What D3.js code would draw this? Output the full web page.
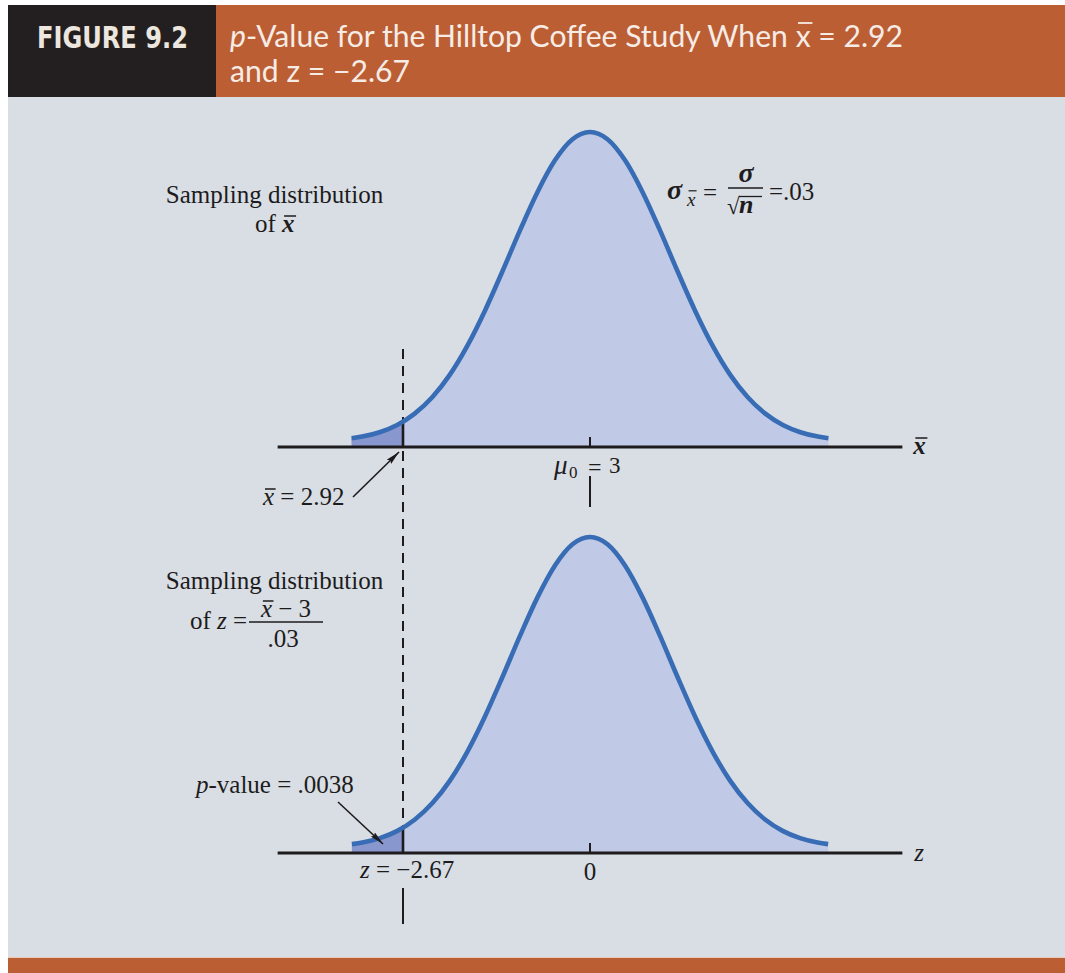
<!DOCTYPE html>
<html>
<head>
<meta charset="utf-8">
<script src="https://cdn.jsdelivr.net/npm/d3@7"></script>
<style>
  body { margin: 0; background: #ffffff; }
  text { white-space: pre; }
</style>
</head>
<body>
<svg id="fig" width="1065" height="973"></svg>
<script>
// ---- study values ----
const popMean = 3;          // hypothesized mean, mu0
const stdError = 0.03;      // sigma / sqrt(n)
const sampleMean = 2.92;    // observed x-bar
const zStat = -2.67;        // test statistic
const pValueText = ".0038";

// ---- bell outline: standardized positions and relative heights ----
const bellZ = [-3.4, -3.25, -3, -2.75, -2.5, -2.25, -2, -1.75, -1.5, -1.25, -1, -0.75, -0.5, -0.25,
               0, 0.25, 0.5, 0.75, 1, 1.25, 1.5, 1.75, 2, 2.25, 2.5, 2.75, 3, 3.25, 3.4];
const bellH = [0.028, 0.033, 0.047, 0.070, 0.106, 0.158, 0.229, 0.321, 0.432, 0.557, 0.687, 0.809, 0.910, 0.977,
               1.000, 0.977, 0.910, 0.809, 0.687, 0.557, 0.432, 0.321, 0.229, 0.158, 0.106, 0.070, 0.047, 0.033, 0.028];

// ---- axis extent in z units, tick labels ----
const axisZ = [-4.46, 4.46];
const topTickLabel = "3";
const bottomTickLabel = "0";

// ---- header text ----
const figureTag = "FIGURE 9.2";

const C = {
  panel: "#d8dee4",
  orange: "#bb5e34",
  dark: "#231f20",
  fill: "#c0c9e5",
  tail: "#8897cd",
  curve: "#386cb4",
  ink: "#1e1b1c",
  head: "#f6ece5"
};
const SERIF = "'Liberation Serif', 'Times New Roman', serif";
const SANS = "Lato, 'Open Sans', 'DejaVu Sans', sans-serif";
const SANS_BOLD = "'DejaVu Sans Condensed', 'Liberation Sans', sans-serif";

const svg = d3.select("#fig");

// scales: z axis and x-bar axis share the same horizontal placement
const zScale = d3.scaleLinear().domain([0, zStat]).range([590, 403]);
const xbarScale = d3.scaleLinear().domain([popMean, sampleMean]).range([590, 403]);
const yTop = d3.scaleLinear().domain([0, 1]).range([447, 132]);
const yBot = d3.scaleLinear().domain([0, 1]).range([853, 537]);

const bell = bellZ.map((z, i) => ({ z, h: bellH[i] }));

// ---- frame ----
svg.append("rect").attr("x", 8).attr("y", 97).attr("width", 1057).attr("height", 861).attr("fill", C.panel);
svg.append("rect").attr("x", 8).attr("y", 5).attr("width", 208).attr("height", 92).attr("fill", C.dark);
svg.append("rect").attr("x", 216).attr("y", 5).attr("width", 849).attr("height", 92).attr("fill", C.orange);
svg.append("rect").attr("x", 8).attr("y", 958).attr("width", 1057).attr("height", 15).attr("fill", C.orange);
svg.append("line").attr("x1", 8).attr("x2", 1065).attr("y1", 957.5).attr("y2", 957.5)
  .attr("stroke", "#e9c9b8").attr("stroke-width", 1);

// ---- rich text helper: sequential pieces, optional overline ----
function rich(parent, x, y, parts, opts) {
  const g = parent.append("g");
  let cx = 0;
  parts.forEach(p => {
    const size = p.size || opts.size;
    const t = g.append("text")
      .attr("xml:space", "preserve")
      .attr("x", cx + (p.dx || 0))
      .attr("y", p.dy || 0)
      .attr("font-family", p.family || opts.family)
      .attr("font-size", size)
      .attr("font-style", p.italic ? "italic" : "normal")
      .attr("font-weight", p.bold ? "bold" : (opts.weight || "normal"))
      .attr("fill", opts.fill || C.ink)
      .text(p.t);
    const w = t.node().getComputedTextLength();
    if (p.over) {
      const oy = (p.dy || 0) - size * (p.overAt || 0.66);
      g.append("line")
        .attr("x1", cx + (p.dx || 0) + size * 0.08).attr("x2", cx + (p.dx || 0) + w + size * 0.06)
        .attr("y1", oy).attr("y2", oy)
        .attr("stroke", opts.fill || C.ink).attr("stroke-width", Math.max(1.2, size * 0.06));
    }
    cx += w + (p.dx || 0) + (p.gap || 0);
  });
  const sx = opts.fit ? opts.fit / cx : 1;
  const wEff = cx * sx;
  let x0 = x;
  if (opts.anchor === "middle") x0 = x - wEff / 2;
  else if (opts.anchor === "end") x0 = x - wEff;
  g.attr("transform", `translate(${x0},${y}) scale(${sx},1)`);
  return { g, width: wEff };
}

// ---- header ----
rich(svg, 37, 48, [{ t: figureTag, bold: true }], { family: SANS_BOLD, size: 30, fill: "#ece6df", fit: 151 });
rich(svg, 230, 47, [
  { t: "p", italic: true },
  { t: "-Value for the Hilltop Coffee Study When " },
  { t: "x", over: true, overAt: 0.8 },
  { t: " = " + sampleMean.toFixed(2) }
], { family: SANS, size: 30, weight: 400, fill: C.head, fit: 673 });
rich(svg, 230, 82, [
  { t: "and " },
  { t: "z" },
  { t: " = \u2212" + Math.abs(zStat).toFixed(2) }
], { family: SANS, size: 30, weight: 400, fill: C.head, fit: 180 });

// ---- one panel: bell, tail, axis ----
function panel(yS, posOf, clipId) {
  const line = d3.line().x(d => posOf(d.z)).y(d => yS(d.h)).curve(d3.curveMonotoneX);
  const area = d3.area().x(d => posOf(d.z)).y0(yS(0)).y1(d => yS(d.h)).curve(d3.curveMonotoneX);

  const pdefs = svg.append("defs");
  pdefs.append("clipPath").attr("id", clipId + "-tail")
    .append("rect").attr("x", 0).attr("y", 0).attr("width", zScale(zStat)).attr("height", 973);
  pdefs.append("clipPath").attr("id", clipId + "-area")
    .append("path").attr("d", area(bell));

  svg.append("path").attr("d", area(bell)).attr("fill", C.fill);
  svg.append("path").attr("d", area(bell)).attr("fill", C.tail)
    .attr("clip-path", `url(#${clipId}-tail)`);
  return { line, area };
}

const topPanel = panel(yTop, z => xbarScale(popMean + stdError * z), "top");
const botPanel = panel(yBot, z => zScale(z), "bot");

// dashed guide at the observed value, through both panels
svg.append("line")
  .attr("x1", xbarScale(sampleMean)).attr("x2", xbarScale(sampleMean))
  .attr("y1", 349).attr("y2", yBot(0))
  .attr("stroke", C.ink).attr("stroke-width", 2).attr("stroke-dasharray", "10,7");

// solid boundary of each tail, clipped to the shaded area
[["top", yTop], ["bot", yBot]].forEach(([id, yS]) => {
  svg.append("line")
    .attr("x1", zScale(zStat)).attr("x2", zScale(zStat))
    .attr("y1", yS(1)).attr("y2", yS(0))
    .attr("stroke", C.ink).attr("stroke-width", 2.6)
    .attr("clip-path", `url(#${id}-area)`);
});

// bell outlines
svg.append("path").attr("d", topPanel.line(bell)).attr("fill", "none")
  .attr("stroke", C.curve).attr("stroke-width", 4.6);
svg.append("path").attr("d", botPanel.line(bell)).attr("fill", "none")
  .attr("stroke", C.curve).attr("stroke-width", 4.6);

// horizontal axes
svg.append("line").attr("x1", zScale(axisZ[0])).attr("x2", zScale(axisZ[1]))
  .attr("y1", yTop(0)).attr("y2", yTop(0)).attr("stroke", C.ink).attr("stroke-width", 3);
svg.append("line").attr("x1", zScale(axisZ[0])).attr("x2", zScale(axisZ[1]))
  .attr("y1", yBot(0)).attr("y2", yBot(0)).attr("stroke", C.ink).attr("stroke-width", 3);

// centre ticks
svg.append("line").attr("x1", xbarScale(popMean)).attr("x2", xbarScale(popMean))
  .attr("y1", yTop(0) - 10).attr("y2", yTop(0)).attr("stroke", C.ink).attr("stroke-width", 2);
svg.append("line").attr("x1", zScale(0)).attr("x2", zScale(0))
  .attr("y1", yBot(0) - 10).attr("y2", yBot(0)).attr("stroke", C.ink).attr("stroke-width", 2);

// axis names
rich(svg, zScale(axisZ[1]) + 11, 454, [{ t: "x", italic: true, bold: true, over: true, overAt: 0.64 }],
  { family: SERIF, size: 25 });
rich(svg, zScale(axisZ[1]) + 12, 861, [{ t: "z", italic: true }], { family: SERIF, size: 25 });

// ---- top panel annotations ----
rich(svg, 274.5, 203, [{ t: "Sampling distribution" }], { family: SERIF, size: 25, anchor: "middle" });
rich(svg, 255, 232, [{ t: "of " }, { t: "x", italic: true, bold: true, over: true, overAt: 0.64 }],
  { family: SERIF, size: 25 });

// sigma_xbar = sigma / sqrt(n) = .03
rich(svg, 667, 199, [{ t: "\u03C3", italic: true, bold: true }], { family: SERIF, size: 28 });
rich(svg, 687, 206, [{ t: "x", italic: true, over: true, overAt: 0.8 }], { family: SERIF, size: 19 });
rich(svg, 703, 201, [{ t: "=" }], { family: SERIF, size: 25 });
svg.append("line").attr("x1", 728).attr("x2", 763).attr("y1", 188).attr("y2", 188)
  .attr("stroke", C.ink).attr("stroke-width", 1.6);
rich(svg, 746, 182, [{ t: "\u03C3", italic: true, bold: true }], { family: SERIF, size: 28, anchor: "middle" });
rich(svg, 727, 214, [{ t: "\u221A" }], { family: SERIF, size: 23 });
svg.append("line").attr("x1", 739).attr("x2", 762).attr("y1", 196.5).attr("y2", 196.5)
  .attr("stroke", C.ink).attr("stroke-width", 1.3);
rich(svg, 739, 213, [{ t: "n", italic: true, bold: true }], { family: SERIF, size: 26 });
rich(svg, 769, 200, [{ t: "=." + String(stdError).split(".")[1] }], { family: SERIF, size: 25 });

// mu0 = 3 under the centre tick
rich(svg, 554, 474, [{ t: "\u03BC", italic: true }], { family: SERIF, size: 27 });
rich(svg, 569, 478, [{ t: "0" }], { family: SERIF, size: 17 });
rich(svg, 588, 475, [{ t: "=" }], { family: SERIF, size: 24 });
rich(svg, 609, 473, [{ t: topTickLabel }], { family: SERIF, size: 23 });
svg.append("line").attr("x1", xbarScale(popMean)).attr("x2", xbarScale(popMean))
  .attr("y1", 476).attr("y2", 507).attr("stroke", C.ink).attr("stroke-width", 2);

// x-bar = 2.92 with arrow
const defs = svg.append("defs");
defs.append("marker").attr("id", "arrow").attr("viewBox", "0 0 14 6")
  .attr("refX", 14).attr("refY", 3).attr("markerWidth", 14).attr("markerHeight", 6)
  .attr("markerUnits", "userSpaceOnUse").attr("orient", "auto")
  .append("path").attr("d", "M0,0 L14,3 L0,6 L2,3 Z").attr("fill", C.ink);

rich(svg, 263, 505, [
  { t: "x", italic: true, over: true, overAt: 0.64 },
  { t: " = " + sampleMean.toFixed(2) }
], { family: SERIF, size: 25 });
svg.append("line").attr("x1", 353).attr("y1", 497).attr("x2", xbarScale(sampleMean) - 4).attr("y2", yTop(0) + 5)
  .attr("stroke", C.ink).attr("stroke-width", 1.6).attr("marker-end", "url(#arrow)");

// ---- bottom panel annotations ----
rich(svg, 274.5, 589, [{ t: "Sampling distribution" }], { family: SERIF, size: 25, anchor: "middle" });
rich(svg, 190, 629, [{ t: "of " }, { t: "z", italic: true }, { t: " =" }], { family: SERIF, size: 25 });
svg.append("line").attr("x1", 249).attr("x2", 323).attr("y1", 622).attr("y2", 622)
  .attr("stroke", C.ink).attr("stroke-width", 1.6);
rich(svg, 286, 617, [
  { t: "x", italic: true, over: true, overAt: 0.64 },
  { t: " \u2212 " + popMean }
], { family: SERIF, size: 25, anchor: "middle" });
rich(svg, 283, 647, [{ t: "." + String(stdError).split(".")[1] }], { family: SERIF, size: 25, anchor: "middle" });

rich(svg, 196, 793, [
  { t: "p", italic: true },
  { t: "-value = " + pValueText }
], { family: SERIF, size: 25 });
svg.append("line").attr("x1", 338).attr("y1", 802).attr("x2", 383).attr("y2", 844)
  .attr("stroke", C.ink).attr("stroke-width", 1.6).attr("marker-end", "url(#arrow)");

rich(svg, 360, 878, [
  { t: "z", italic: true },
  { t: " = \u2212" + Math.abs(zStat).toFixed(2) }
], { family: SERIF, size: 25 });
rich(svg, zScale(0), 880, [{ t: bottomTickLabel }], { family: SERIF, size: 25, anchor: "middle" });
svg.append("line").attr("x1", zScale(zStat)).attr("x2", zScale(zStat))
  .attr("y1", 888).attr("y2", 924).attr("stroke", C.ink).attr("stroke-width", 2);
</script>
</body>
</html>
